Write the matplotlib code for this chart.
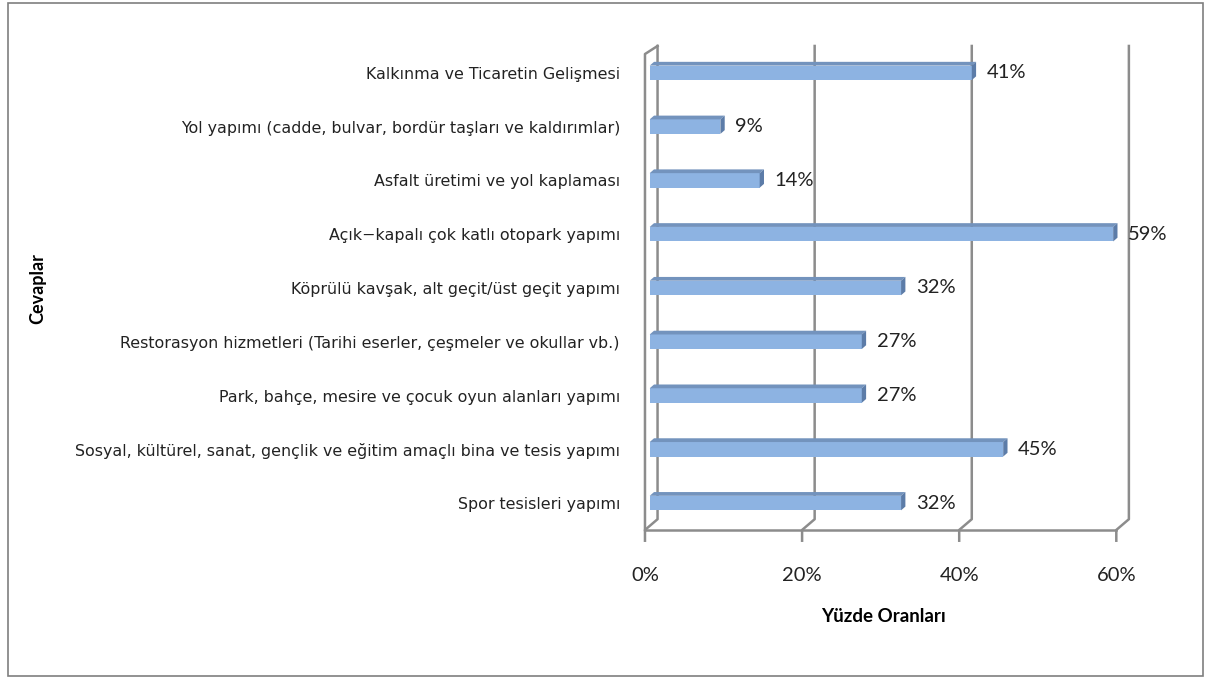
import matplotlib.pyplot as plt
from matplotlib.patches import Polygon, Rectangle

plt.rcParams['font.family'] = ['Lato', 'DejaVu Sans']

# answers, top to bottom as in the chart
cevaplar = [
    'Kalkınma ve Ticaretin Gelişmesi',
    'Yol yapımı (cadde, bulvar, bordür taşları ve kaldırımlar)',
    'Asfalt üretimi ve yol kaplaması',
    'Açık−kapalı çok katlı otopark yapımı',
    'Köprülü kavşak, alt geçit/üst geçit yapımı',
    'Restorasyon hizmetleri (Tarihi eserler, çeşmeler ve okullar vb.)',
    'Park, bahçe, mesire ve çocuk oyun alanları yapımı',
    'Sosyal, kültürel, sanat, gençlik ve eğitim amaçlı bina ve tesis yapımı',
    'Spor tesisleri yapımı',
]
oranlar = [41, 9, 14, 59, 32, 27, 27, 45, 32]
xticks = [0, 20, 40, 60]
xtick_labels = ['0%', '20%', '40%', '60%']

bar_col = '#8db3e2'
side_col = '#5c7ca8'
top_col = '#7393bd'
grid_col = '#8c8c8c'

fig = plt.figure(figsize=(12.11, 6.79), dpi=100)
ax = fig.add_axes([0.5326, 0.2195, 0.3931, 0.7128])

ys = list(range(len(cevaplar)))
h = 0.27
ax.barh(ys, oranlar, height=h, color=bar_col, edgecolor='none', zorder=3)

# fake 3d: dark top strip and dark end cap
d_x, d_y = 0.55, 0.07
for y, v in zip(ys, oranlar):
    top = y - h / 2
    ax.add_patch(Polygon([(0, top), (v, top), (v + d_x, top - d_y), (d_x, top - d_y)],
                         closed=True, color=top_col, lw=0, zorder=3))
    ax.add_patch(Polygon([(v, top), (v + d_x, top - d_y), (v + d_x, y + h / 2 - d_y), (v, y + h / 2)],
                         closed=True, color=side_col, lw=0, zorder=3))
    ax.text(v + 1.9, y, f'{v}%', va='center', ha='left', fontsize=14.5, color='#222222', zorder=4)

# walls / gridlines with a little perspective
back = 1.0
front = -0.6
ybot = 8.5
for g in xticks:
    ax.plot([g + back, g + back, g + front, g + front],
            [-0.5, ybot - 0.2, ybot, ybot + 0.2],
            color=grid_col, lw=1.8, clip_on=False, zorder=2)
ax.plot([front, 60 + front], [ybot, ybot], color=grid_col, lw=1.8, clip_on=False, zorder=2)
ax.plot([back, front, front], [-0.5, -0.35, ybot], color=grid_col, lw=1.8, clip_on=False, zorder=2)

ax.set_xlim(0, 60)
ax.set_ylim(8.5, -0.5)
ax.set_yticks(ys)
ax.set_yticklabels(cevaplar, fontsize=11.4, color='#222222', family=['DejaVu Sans'])
ax.set_xticks([g + front for g in xticks])
ax.set_xticklabels(xtick_labels, fontsize=14.5, color='#222222')
ax.tick_params(axis='both', length=0)
ax.tick_params(axis='y', pad=18)
ax.tick_params(axis='x', pad=27)
for s in ax.spines.values():
    s.set_visible(False)

ax.set_xlabel('Yüzde Oranları', fontsize=13.5, fontweight='bold', labelpad=17)
fig.text(0.031, 0.575, 'Cevaplar', rotation=90, fontsize=13, fontweight='bold',
         ha='center', va='center')

fig.patches.append(Rectangle((0.007, 0.004), 0.986, 0.991, transform=fig.transFigure,
                             fill=False, edgecolor='#7f7f7f', lw=1.2))

fig.savefig('out.png', dpi=100)
